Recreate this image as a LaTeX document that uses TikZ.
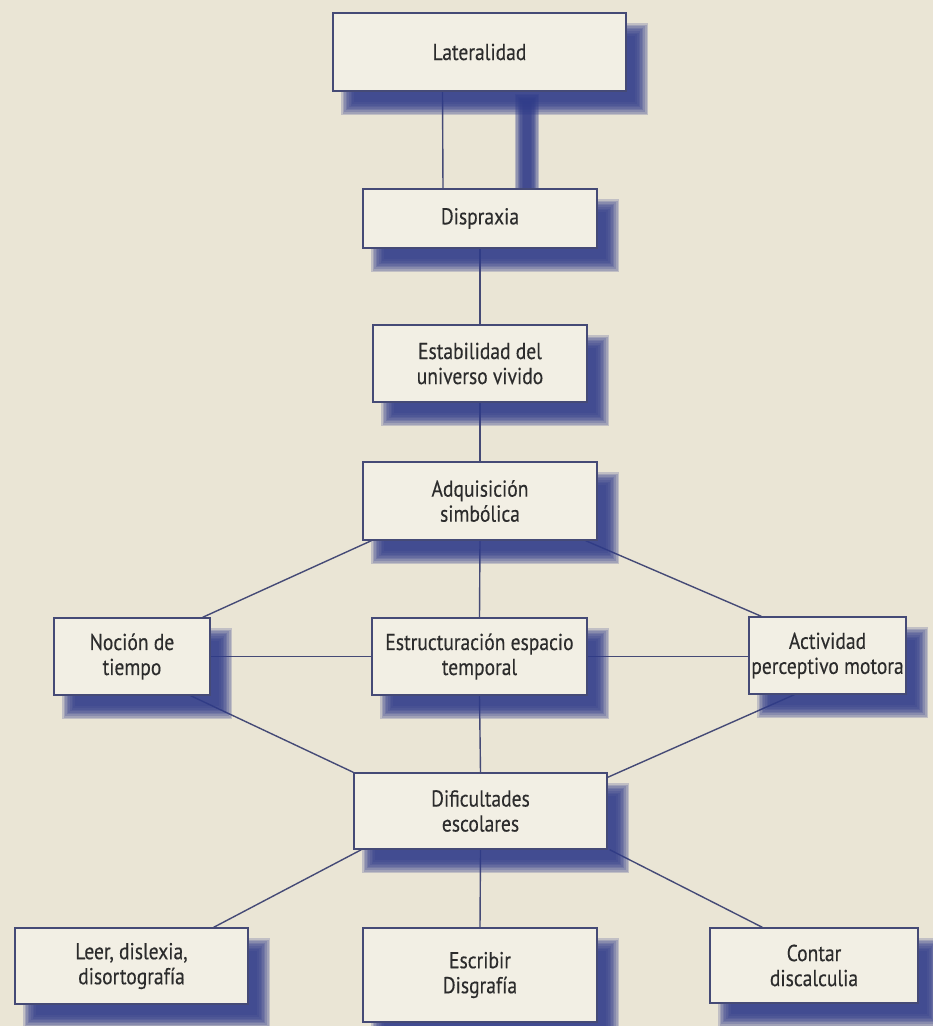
\documentclass[tikz,border=0pt]{standalone}
\usepackage{fontspec}
\setmainfont{PT Sans}[FakeStretch=0.85,FakeBold=0.3]
\usetikzlibrary{calc}
\definecolor{bgc}{HTML}{EAE5D5}
\definecolor{boxfill}{HTML}{F2EFE4}
\definecolor{edge}{HTML}{454A76}
\definecolor{shd}{HTML}{303C8A}
\definecolor{txt}{HTML}{2C2C2C}
\pgfdeclarelayer{bglayer}
\pgfdeclarelayer{linelayer}
\pgfdeclarelayer{shadowlayer}
\pgfsetlayers{bglayer,linelayer,shadowlayer,main}
\begin{document}
\begin{tikzpicture}[x=1pt,y=-1pt,
  boxtext/.style={text=txt, align=center, font=\fontsize{23}{25}\selectfont, inner sep=0pt},
  box/.style={boxtext, draw=edge, line width=1.4pt, fill=boxfill},
  conn/.style={draw=edge, line width=1.4pt}]
\begin{pgfonlayer}{bglayer}
\fill[bgc] (0,0) rectangle (933,1026);
\end{pgfonlayer}
\useasboundingbox (0,0) rectangle (933,1026);

\node[box, minimum width=293pt, minimum height=78pt] (lat) at (479.5,52) {Lateralidad};
\node[box, minimum width=234pt, minimum height=59pt] (dis) at (480,218.5) {Dispraxia};
\node[box, minimum width=214pt, minimum height=77pt] (est) at (480,363.5) {Estabilidad del\\universo vivido};
\node[box, minimum width=234pt, minimum height=78pt] (adq) at (480,501) {Adquisición\\simbólica};
\node[box, minimum width=156pt, minimum height=77pt] (noc) at (132,656.5) {Noción de\\tiempo};
\node[box, minimum width=215pt, minimum height=77pt] (esp) at (479.5,656.5) {Estructuración espacio\\temporal};
\node[box, minimum width=157pt, minimum height=77pt] (act) at (827.5,655.5) {Actividad\\perceptivo motora};
\node[box, minimum width=253pt, minimum height=76pt] (dif) at (480.5,811) {Dificultades\\escolares};
\node[box, minimum width=233pt, minimum height=76pt] (lee) at (131.5,966) {Leer, dislexia,\\disortografía};
\node[box, minimum width=234pt, minimum height=94pt] (esc) at (480,975) {Escribir\\Disgrafía};
\node[box, minimum width=208pt, minimum height=75pt] (con) at (814,965.5) {Contar\\discalculia};

\begin{pgfonlayer}{shadowlayer}
\foreach \n in {lat,dis,est,adq,noc,esp,act,dif,lee,esc,con}{
  \foreach \k in {0,...,8}{
    \pgfmathsetmacro\e{(\k-4)*1.6}
    \fill[shd, opacity=0.22] ($(\n.north west)+(15pt,-17pt)+\e*(-1pt,1pt)$) rectangle ($(\n.south east)+(15pt,-17pt)+\e*(1pt,-1pt)$);
  }
}
\coordinate (bartop) at (519,98);
\coordinate (barbot) at (535,189);
\foreach \k in {0,...,6}{
  \pgfmathsetmacro\e{(\k-3)*1.3}
  \fill[shd, opacity=0.28] ($(bartop)+\e*(-1pt,1pt)$) rectangle ($(barbot)+\e*(1pt,0pt)$);
}
\end{pgfonlayer}

\begin{pgfonlayer}{linelayer}
\draw[conn] ([xshift=-37pt]lat.south) -- ([xshift=-37pt]dis.north);
\draw[conn] (dis.south) -- (est.north);
\draw[conn] (est.south) -- (adq.north);
\draw[conn] (adq.south) -- (esp.north);
\draw[conn] ([xshift=9pt]adq.south west) -- ([xshift=-8pt]noc.north east);
\draw[conn] ([xshift=-12pt]adq.south east) -- ([xshift=13pt]act.north west);
\draw[conn] (noc.east) -- (esp.west);
\draw[conn] (esp.east) -- (esp.east -| act.west);
\draw[conn] ([xshift=-20pt]noc.south east) -- (dif.north west);
\draw[conn] ([xshift=46pt]act.south west) -- ([yshift=-5pt]dif.north east);
\draw[conn] (esp.south) -- (dif.north);
\draw[conn] ([xshift=8pt]dif.south west) -- ([xshift=-35pt]lee.north east);
\draw[conn] (dif.south) -- (esc.north);
\draw[conn] ([xshift=2pt]dif.south east) -- ([xshift=53pt]con.north west);
\end{pgfonlayer}
\end{tikzpicture}
\end{document}
